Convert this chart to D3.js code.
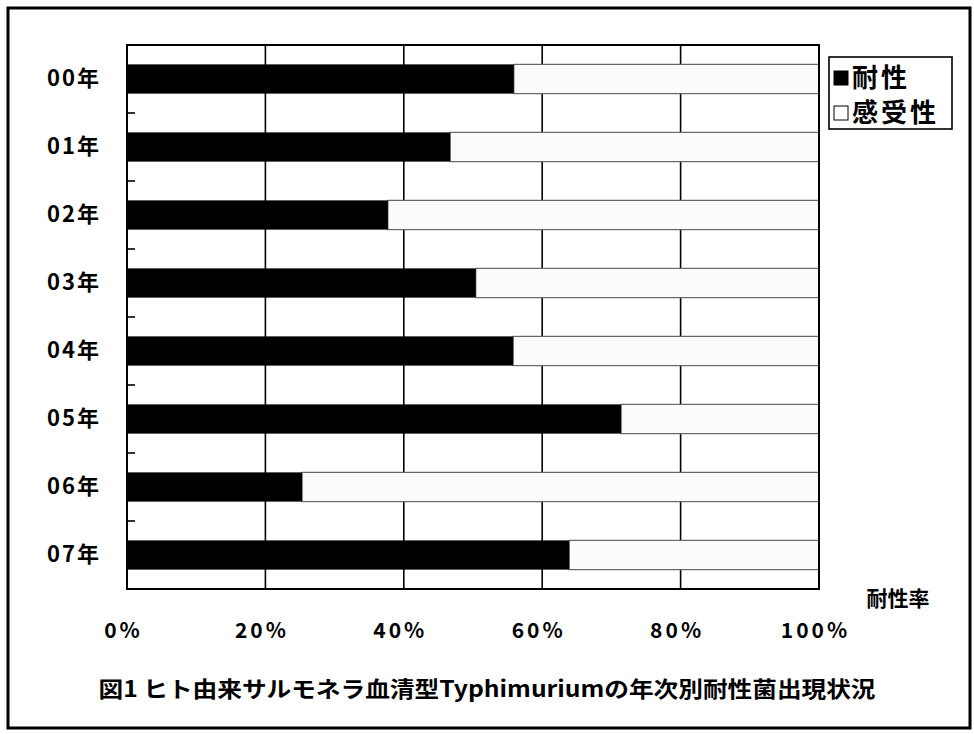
<!DOCTYPE html>
<html><head><meta charset="utf-8">
<script src="https://cdn.jsdelivr.net/npm/d3@7"></script>
<style>
html,body{margin:0;padding:0;background:#fff;}
svg text{font-family:"Noto Sans CJK JP","Noto Sans",sans-serif;font-weight:bold;fill:#000;}
</style></head>
<body>
<svg id="chart" width="974" height="734"></svg>
<script>
const categories = ["00年","01年","02年","03年","04年","05年","06年","07年"];
const resistant = [55.9, 46.7, 37.7, 50.4, 55.8, 71.4, 25.3, 63.9];
const susceptible = resistant.map(v => 100 - v);
const xTicks = [0, 20, 40, 60, 80, 100];
const seriesNames = ["耐性", "感受性"];
const titleText = "図1 ヒト由来サルモネラ血清型Typhimuriumの年次別耐性菌出現状況";
const xAxisLabel = "耐性率";

const svg = d3.select("#chart");
const L = 127, R = 819, T = 45, B = 589;

// outer frame
svg.append("rect").attr("x", 8).attr("y", 8).attr("width", 962).attr("height", 720)
  .attr("fill", "#fff").attr("stroke", "#000").attr("stroke-width", 3);

const x = d3.scaleLinear().domain([0, 100]).range([L, R]);
const y = d3.scaleBand().domain(categories).range([T, B]).paddingInner(0.57).paddingOuter(0.285);
const yOuter = d3.scaleBand().domain(categories).range([T, B]);

// gridlines
svg.append("g").selectAll("line").data(xTicks.filter(t => t > 0 && t < 100)).join("line")
  .attr("x1", d => x(d)).attr("x2", d => x(d)).attr("y1", T).attr("y2", B)
  .attr("stroke", "#000").attr("stroke-width", 1.6);

// bars
const rows = categories.map((c, i) => ({c, r: resistant[i], s: susceptible[i]}));
svg.append("g").selectAll("rect").data(rows).join("rect")
  .attr("x", d => x(d.r)).attr("width", d => x(d.r + d.s) - x(d.r))
  .attr("y", d => y(d.c)).attr("height", y.bandwidth())
  .attr("fill", "#fbfbfb").attr("stroke", "#666").attr("stroke-width", 1.2);
svg.append("g").selectAll("rect").data(rows).join("rect")
  .attr("x", x(0)).attr("width", d => x(d.r) - x(0))
  .attr("y", d => y(d.c)).attr("height", y.bandwidth())
  .attr("fill", "#000");

// plot border
svg.append("rect").attr("x", L).attr("y", T).attr("width", R - L).attr("height", B - T)
  .attr("fill", "none").attr("stroke", "#000").attr("stroke-width", 2);

// minor ticks at band boundaries
svg.append("g").selectAll("line").data(categories.slice(1)).join("line")
  .attr("x1", L).attr("x2", L + 8)
  .attr("y1", d => yOuter(d)).attr("y2", d => yOuter(d))
  .attr("stroke", "#000").attr("stroke-width", 1.6);

// y axis
const yAxis = svg.append("g").attr("transform", `translate(${L},0)`)
  .call(d3.axisLeft(y).tickSize(0).tickPadding(26));
yAxis.select(".domain").remove();
yAxis.selectAll("text").style("font-size", "22px").style("letter-spacing", "2px").attr("fill", "#000");

// x axis
const xAxis = svg.append("g").attr("transform", `translate(0,${B})`)
  .call(d3.axisBottom(x).tickValues(xTicks).tickFormat(d => d + "%").tickSize(0).tickPadding(34));
xAxis.select(".domain").remove();
xAxis.selectAll("text").style("font-size", "21px").style("letter-spacing", "3px").attr("dx", "-4").attr("fill", "#000");

// axis label
svg.append("text").attr("x", 898).attr("y", 606).attr("text-anchor", "middle")
  .style("font-size", "21px").text(xAxisLabel);

// legend
const lg = svg.append("g");
lg.append("rect").attr("x", 829).attr("y", 57).attr("width", 123).attr("height", 72)
  .attr("fill", "#fff").attr("stroke", "#000").attr("stroke-width", 1.6);
const legendFills = ["#000", "#fff"];
seriesNames.forEach((n, i) => {
  const yy = 78 + i * 35;
  lg.append("rect").attr("x", 834).attr("y", yy - 7).attr("width", 14).attr("height", 14)
    .attr("fill", legendFills[i]).attr("stroke", "#000").attr("stroke-width", 1);
  lg.append("text").attr("x", 852).attr("y", yy).attr("dy", "0.36em")
    .style("font-size", "26px").style("letter-spacing", "3px").text(n);
});

// title
svg.append("text").attr("x", 487).attr("y", 689).attr("dy", "0.36em").attr("text-anchor", "middle")
  .style("font-size", "22px").style("font-weight", "600").attr("textLength", 777).attr("lengthAdjust", "spacingAndGlyphs")
  .text(titleText);
</script>
</body></html>
